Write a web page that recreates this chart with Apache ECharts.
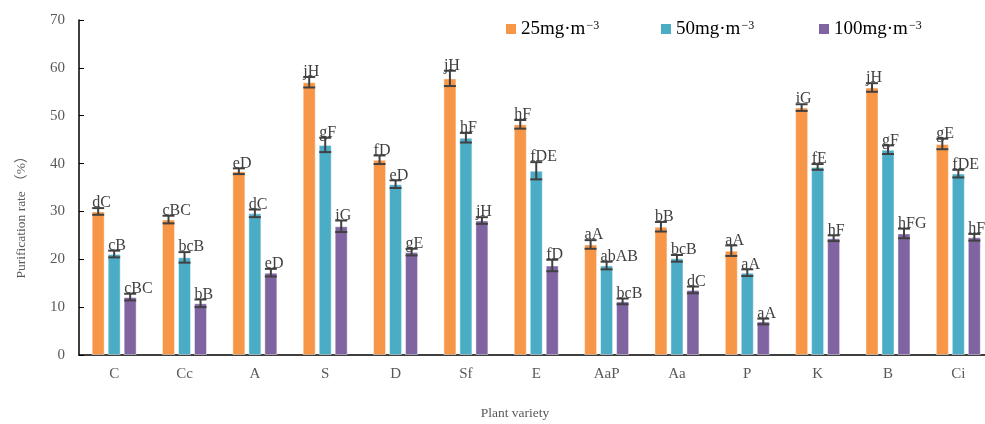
<!DOCTYPE html>
<html><head><meta charset="utf-8">
<script src="https://cdn.jsdelivr.net/npm/echarts@6/dist/echarts.min.js"></script>
<style>html,body{margin:0;padding:0;background:#fff}#c{width:985px;height:424px}</style>
</head><body><div id="c"></div>
<script>
const categories = ['C','Cc','A','S','D','Sf','E','AaP','Aa','P','K','B','Ci'];
const seriesNames = ['25mg·m−3','50mg·m−3','100mg·m−3'];
const legendBase = ['25mg·m','50mg·m','100mg·m'];
const val25 = [30.0,28.3,38.4,57.0,40.8,57.8,48.2,23.1,26.8,21.8,51.7,55.9,44.1];
const err25 = [0.7,0.8,0.6,1.1,0.9,1.6,0.9,0.9,1.0,1.1,0.7,0.9,1.1];
const val50 = [21.1,20.4,29.6,43.9,35.7,45.4,38.5,18.7,20.2,17.2,39.3,42.9,37.9];
const err50 = [0.7,1.1,0.8,1.5,0.8,1.0,1.8,0.8,0.7,0.7,0.6,0.9,0.8];
const val100 = [12.1,10.8,17.2,26.9,21.5,28.1,18.7,11.2,13.6,7.0,24.4,25.4,24.6];
const err100 = [0.7,0.8,0.8,1.2,0.7,0.7,1.2,0.6,0.7,0.6,0.6,1.0,0.7];
const lab25 = ['dC','cBC','eD','jH','fD','jH','hF','aA','bB','aA','iG','jH','gE'];
const lab50 = ['cB','bcB','dC','gF','eD','hF','fDE','abAB','bcB','aA','fE','gF','fDE'];
const lab100 = ['cBC','bB','eD','iG','gE','jH','fD','bcB','dC','aA','hF','hFG','hF'];
const yMin = 0, yMax = 70, yStep = 10;

const SERIF = "'Liberation Serif', 'Times New Roman', 'Noto Sans CJK SC', serif";
const colors = ['#F79646','#4BACC6','#8064A2'];
const vals = [val25, val50, val100];
const errs = [err25, err50, err100];
const labs = [lab25, lab50, lab100];
const offsets = [-16, 0, 16];

const chart = echarts.init(document.getElementById('c'), null, {renderer:'canvas'});

const series = [];
vals.forEach((v, k) => {
  series.push({
    type: 'bar', name: seriesNames[k], data: v,
    barWidth: 13, barGap: '23%',
    itemStyle: {color: colors[k], borderColor: 'rgba(255,255,255,0.45)', borderWidth: 1},
    emphasis: {disabled: true}
  });
});
vals.forEach((v, k) => {
  series.push({
    type: 'custom',
    data: categories.map((c, i) => [i, v[i], errs[k][i]]),
    encode: {x: 0, y: 1},
    z: 10,
    silent: true,
    renderItem(params, api) {
      const i = api.value(0), m = api.value(1), e = api.value(2);
      const top = api.coord([i, m + e]);
      const bot = api.coord([i, m - e]);
      const x = top[0] + offsets[k];
      const hw = 6;
      const ls = {stroke: '#404040', lineWidth: 2};
      return {type: 'group', children: [
        {type: 'line', shape: {x1: x, y1: top[1], x2: x, y2: bot[1]}, style: ls},
        {type: 'line', shape: {x1: x - hw, y1: top[1], x2: x + hw, y2: top[1]}, style: ls},
        {type: 'line', shape: {x1: x - hw, y1: bot[1], x2: x + hw, y2: bot[1]}, style: ls},
        {type: 'text', style: {text: labs[k][params.dataIndex], x: x - 6, y: top[1] + 3,
          align: 'left', verticalAlign: 'bottom', fontSize: 16, fontFamily: SERIF, fill: '#404040'}}
      ]};
    }
  });
});

const legendLeft = [506, 661, 819];
const option = {
  animation: false,
  backgroundColor: '#fff',
  grid: {left: 79, top: 20, width: 914.5, height: 335, containLabel: false, outerBoundsMode: 'none'},
  legend: seriesNames.map((n, k) => ({
    data: [n], left: legendLeft[k], top: 18, padding: 0,
    icon: 'rect', itemWidth: 10, itemHeight: 10,
    itemStyle: {borderWidth: 0},
    selectedMode: false,
    formatter: () => '{a|' + legendBase[k] + '}{s|−3}',
    textStyle: {color: '#000', fontFamily: SERIF, fontSize: 19,
      rich: {
        a: {fontSize: 19, fontFamily: SERIF, color: '#000', lineHeight: 22},
        s: {fontSize: 12, fontFamily: SERIF, color: '#000', lineHeight: 12, verticalAlign: 'top', padding: [2,0,0,1]}
      }}
  })),
  xAxis: {
    type: 'category', data: categories,
    axisLine: {lineStyle: {color: '#000', width: 1.5}},
    axisTick: {inside: true, length: 4, lineStyle: {color: '#000', width: 1}},
    axisLabel: {color: '#595959', fontSize: 15, fontFamily: SERIF, margin: 12},
    splitLine: {show: false}
  },
  yAxis: {
    type: 'value', min: yMin, max: yMax, interval: yStep,
    axisLine: {show: true, lineStyle: {color: '#000', width: 1.5}},
    axisTick: {show: true, inside: true, length: 5, lineStyle: {color: '#000', width: 1}},
    axisLabel: {color: '#595959', fontSize: 15, fontFamily: SERIF, margin: 14},
    splitLine: {show: false}
  },
  graphic: [
    {type: 'text', x: 21, y: 214, rotation: Math.PI / 2,
      style: {text: 'Purification rate （%）', align: 'center', verticalAlign: 'middle',
        fontSize: 13.5, fontFamily: SERIF, fill: '#595959'}},
    {type: 'text', x: 515, y: 413,
      style: {text: 'Plant variety', align: 'center', verticalAlign: 'middle',
        fontSize: 13.5, fontFamily: SERIF, fill: '#595959'}}
  ],
  series: series
};
chart.setOption(option);
</script>
</body></html>
